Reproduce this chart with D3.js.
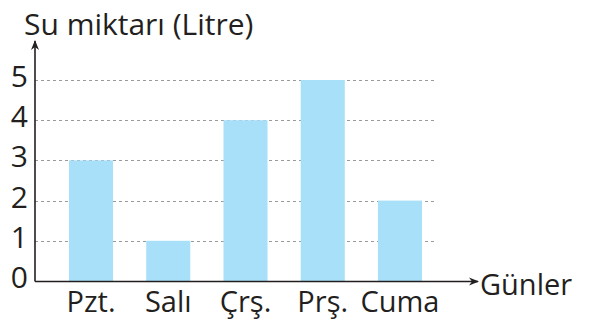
<!DOCTYPE html>
<meta charset="utf-8" />
<style>
  body {
    margin: 0px;
    padding: 0px;
    background: #fff;
  }
  svg text {
    font-family: "Open Sans", "DejaVu Sans", sans-serif;
    fill: #231f20;
  }
  .grid line {
    stroke: #9a9a9a;
    stroke-width: 1px;
    stroke-dasharray: 3, 3;
  }
</style>

<svg width="590" height="324"></svg>

<script src="https://d3js.org/d3.v7.min.js"></script>
<script>
  const days = ["Pzt.", "Salı", "Çrş.", "Prş.", "Cuma"];
  const litres = [3, 1, 4, 5, 2];
  const yTicks = [0, 1, 2, 3, 4, 5];

  const svg = d3.select("svg");

  const x0 = 35,
    y0 = 281;

  const x = d3.scaleBand().domain(days).range([69, 422]).paddingInner(0.43).paddingOuter(0);
  const y = d3.scaleLinear().domain([0, 5]).range([y0, 80]);

  // dashed grid
  svg
    .append("g")
    .attr("class", "grid")
    .selectAll("line")
    .data(yTicks.filter((d) => d > 0))
    .enter()
    .append("line")
    .attr("x1", x0)
    .attr("x2", 434)
    .attr("y1", (d) => Math.round(y(d)) + 0.5)
    .attr("y2", (d) => Math.round(y(d)) + 0.5);

  // bars
  svg
    .append("g")
    .selectAll("rect")
    .data(litres)
    .enter()
    .append("rect")
    .attr("x", (d, i) => x(days[i]))
    .attr("width", x.bandwidth())
    .attr("y", (d) => y(d))
    .attr("height", (d) => y0 - y(d))
    .attr("fill", "#a8e0f9");

  // axes with arrows
  svg
    .append("defs")
    .append("marker")
    .attr("id", "arrow")
    .attr("viewBox", "0 0 10 10")
    .attr("refX", 9)
    .attr("refY", 5)
    .attr("markerWidth", 10)
    .attr("markerHeight", 10)
    .attr("markerUnits", "userSpaceOnUse")
    .attr("orient", "auto")
    .append("path")
    .attr("d", "M0,1 L10,5 L0,9 L3,5 Z")
    .attr("fill", "#231f20");

  svg
    .append("line")
    .attr("x1", x0)
    .attr("y1", y0 + 0.5)
    .attr("x2", 478)
    .attr("y2", y0 + 0.5)
    .attr("stroke", "#231f20")
    .attr("stroke-width", 1.6)
    .attr("marker-end", "url(#arrow)");

  svg
    .append("line")
    .attr("x1", x0)
    .attr("y1", y0 + 0.5)
    .attr("x2", x0)
    .attr("y2", 41)
    .attr("stroke", "#231f20")
    .attr("stroke-width", 1.6)
    .attr("marker-end", "url(#arrow)");

  // y tick labels
  svg
    .append("g")
    .selectAll("text")
    .data(yTicks)
    .enter()
    .append("text")
    .attr("x", 28)
    .attr("y", (d) => y(d) + 7)
    .attr("text-anchor", "end")
    .attr("font-size", 30)
    .text((d) => d);

  // category labels
  svg
    .append("g")
    .selectAll("text")
    .data(days)
    .enter()
    .append("text")
    .attr("x", (d) => x(d) + x.bandwidth() / 2)
    .attr("y", 312)
    .attr("text-anchor", "middle")
    .attr("font-size", 29)
    .text((d) => d);

  svg.append("text").attr("x", 24).attr("y", 35).attr("font-size", 30).text("Su miktarı (Litre)");
  svg.append("text").attr("x", 480).attr("y", 295).attr("font-size", 29).text("Günler");
</script>
